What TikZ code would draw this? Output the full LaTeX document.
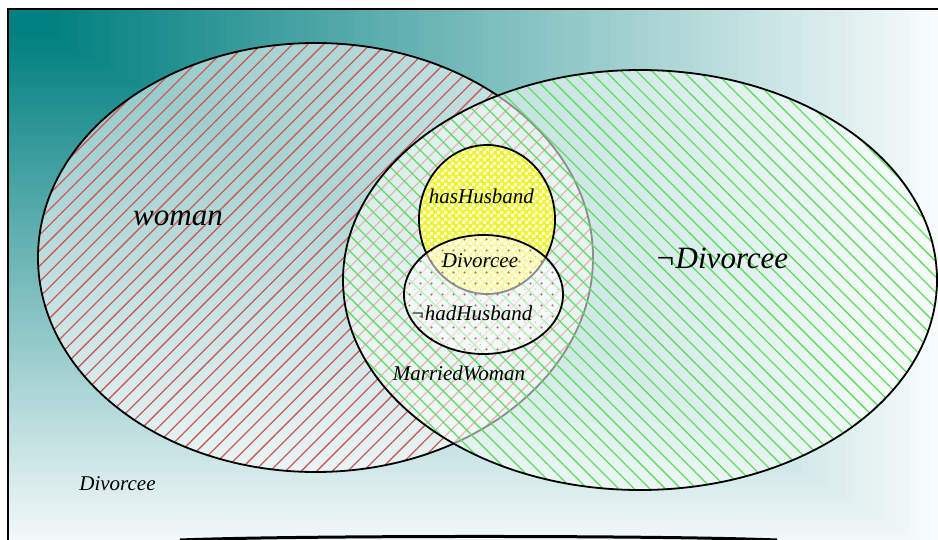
\documentclass[tikz,border=0pt]{standalone}
\usepackage{fontspec}
\setmainfont{Liberation Serif}
\usetikzlibrary{shapes.geometric,patterns,patterns.meta}

% small two-tone checks for the yellow set
\tikzdeclarepattern{
  name=checks,
  type=uncolored,
  bounding box={(0pt,0pt) and (7pt,7pt)},
  tile size={(7pt,7pt)},
  code={
    \fill (0pt,0pt) rectangle (3.5pt,3.5pt);
    \fill (3.5pt,3.5pt) rectangle (7pt,7pt);
  }
}
% sparse dots for the lower set
\tikzdeclarepattern{
  name=spots,
  type=colored,
  bounding box={(0pt,0pt) and (11pt,11pt)},
  tile size={(11pt,11pt)},
  code={
    \fill[fill={rgb,255:red,185;green,105;blue,105}] (2.75pt,2.75pt) circle (1.3pt);
    \fill[fill=black!22] (8.25pt,8.25pt) circle (0.8pt);
  }
}

\definecolor{hatchred}{RGB}{205,90,90}
\definecolor{hatchgreen}{RGB}{90,225,90}
\definecolor{setyellow}{RGB}{240,245,40}

\begin{document}
\begin{tikzpicture}[x=1pt,y=-1pt,
  setbox/.style={ellipse,draw=black,line width=1.8pt,inner sep=0pt},
  veil/.style={fill=white,fill opacity=0.55},
  smalllabel/.style={font=\itshape\fontsize{21}{21}\selectfont,inner sep=0pt,anchor=base},
  biglabel/.style={font=\itshape\fontsize{31}{31}\selectfont,inner sep=0pt,anchor=base},
]
\useasboundingbox (0,0) rectangle (938,539);
\clip (0,0) rectangle (938,539);

% background: teal in the top left corner fading to white
\foreach \k in {150,149,...,1}{
  \pgfmathsetmacro\t{\k/150}
  \pgfmathtruncatemacro\p{100*(1-max(0,(\t-0.05)/0.95))}
  \fill[teal!\p!white] (8,9) rectangle ++(960*\t,560*\t);
}

% flat shape peeking in at the bottom
\draw[line width=3pt] (180,540) .. controls (300,535.3) and (660,535.3) .. (777,540);

% the sets
\node[setbox,minimum width=555pt,minimum height=429pt,
  preaction={veil},
  pattern={Lines[angle=45,distance=11pt,line width=1.3pt]},pattern color=hatchred]
  (woman) at (315.5,257.5) {};
\node[setbox,minimum width=594pt,minimum height=420pt,
  preaction={veil},
  pattern={Lines[angle=-45,distance=11pt,line width=1.3pt]},pattern color=hatchgreen]
  (notdiv) at (640,280) {};
\node[setbox,minimum width=136pt,minimum height=149pt,
  preaction={fill=setyellow,fill opacity=0.9},
  pattern=checks,pattern color=yellow!20!white]
  (hashusband) at (487,219.5) {};
\node[setbox,minimum width=159pt,minimum height=119pt,
  preaction={veil},
  pattern=spots]
  (hadhusband) at (483.5,294.5) {};

% labels
\node[biglabel] (lwoman) at (178,225) {woman};
\node[biglabel] (lnotdiv) at (721.5,268) {¬Divorcee};
\node[smalllabel] (lhas) at (481.5,203) {hasHusband};
\node[smalllabel] (ldiv) at (480,267) {Divorcee};
\node[smalllabel] (lhad) at (471.5,320) {¬hadHusband};
\node[smalllabel] (lmarried) at (459,380) {MarriedWoman};
\node[smalllabel] (ldivout) at (117.5,490) {Divorcee};

% frame
\draw[line width=1.8pt] (8,9) rectangle (1000,600);
\end{tikzpicture}
\end{document}
